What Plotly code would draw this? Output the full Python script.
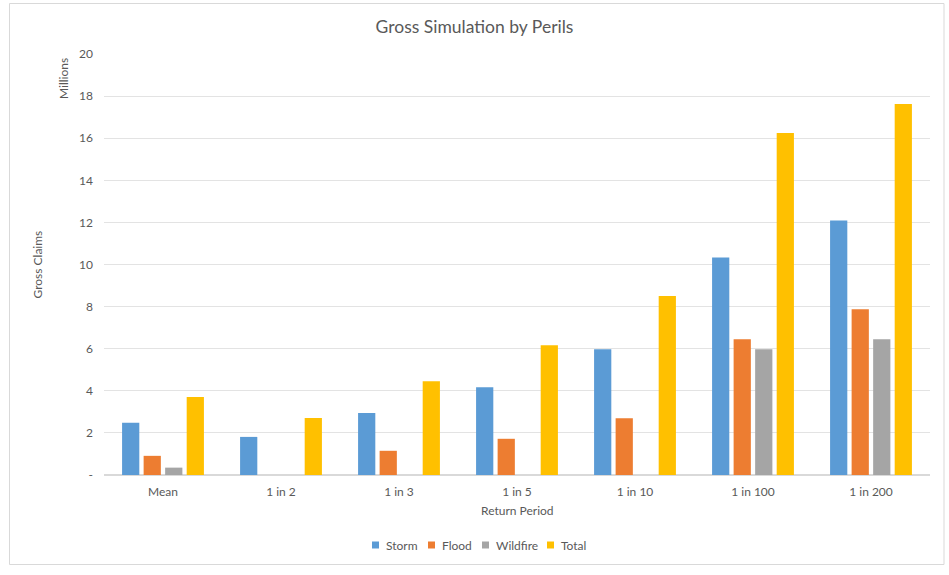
import plotly.graph_objects as go

categories = ["Mean", "1 in 2", "1 in 3", "1 in 5", "1 in 10", "1 in 100", "1 in 200"]
storm = [2.48, 1.81, 2.95, 4.17, 5.97, 10.33, 12.09]
flood = [0.91, 0, 1.15, 1.72, 2.70, 6.45, 7.88]
wildfire = [0.35, 0, 0, 0, 0, 5.97, 6.45]
total = [3.70, 2.71, 4.45, 6.16, 8.50, 16.25, 17.63]
series_names = ["Storm", "Flood", "Wildfire", "Total"]
series_colors = ["#5B9BD5", "#ED7D31", "#A5A5A5", "#FFC000"]
y_tickvals = [0, 2, 4, 6, 8, 10, 12, 14, 16, 18, 20]
y_ticktext = ["-", "2", "4", "6", "8", "10", "12", "14", "16", "18", "20"]

W, H = 949, 575
ML, MR, MT, MB = 104, 19, 54, 100
PW, PH = W - ML - MR, H - MT - MB

def px_x(p):
    return (p - ML) / PW

def px_y(p):
    return (H - MB - p) / PH

FONT = "Lato, 'Open Sans', sans-serif"
TXT = "#595959"

fig = go.Figure()
for name, vals, col in zip(series_names, [storm, flood, wildfire, total], series_colors):
    fig.add_trace(go.Bar(
        x=categories, y=vals, name=name, showlegend=False,
        marker=dict(color=col, line=dict(width=0)),
    ))

# custom legend (square markers + labels), positioned like the reference
legend_sq_x = [372, 428, 482, 547]
legend_y = 545
shapes = [
    dict(type="rect", xref="paper", yref="paper",
         x0=px_x(9.5), x1=px_x(944), y0=px_y(564.5), y1=px_y(3.5),
         line=dict(color="#D9D9D9", width=1), fillcolor="rgba(0,0,0,0)", layer="below"),
]
annotations = [
    dict(text="Gross Claims", xref="paper", yref="paper", x=px_x(37), y=0.5,
         textangle=-90, showarrow=False, xanchor="center", yanchor="middle",
         font=dict(size=12, color=TXT)),
    dict(text="Millions", xref="paper", yref="paper", x=px_x(64), y=px_y(79),
         textangle=-90, showarrow=False, xanchor="center", yanchor="middle",
         font=dict(size=12, color=TXT)),
    dict(text="Return Period", xref="paper", yref="paper", x=0.5, y=px_y(510),
         showarrow=False, xanchor="center", yanchor="middle",
         font=dict(size=12, color=TXT)),
]
for name, col, sx in zip(series_names, series_colors, legend_sq_x):
    shapes.append(dict(type="rect", xref="paper", yref="paper",
                       x0=px_x(sx), x1=px_x(sx + 7), y0=px_y(legend_y + 3.5), y1=px_y(legend_y - 3.5),
                       line=dict(width=0), fillcolor=col))
    annotations.append(dict(text=name, xref="paper", yref="paper", x=px_x(sx + 12), y=px_y(legend_y),
                            showarrow=False, xanchor="left", yanchor="middle",
                            font=dict(size=12, color=TXT)))

fig.update_layout(
    width=W, height=H,
    margin=dict(l=ML, r=MR, t=MT, b=MB),
    paper_bgcolor="white", plot_bgcolor="white",
    barmode="group", bargap=0.27, bargroupgap=0.2,
    font=dict(family=FONT, color=TXT, size=12),
    title=dict(text="Gross Simulation by Perils", x=0.5, xanchor="center",
               y=1 - 27 / H, yanchor="middle", font=dict(size=17.5, color=TXT)),
    showlegend=False,
    xaxis=dict(showgrid=False, showline=True, linecolor="#D9D9D9", linewidth=1,
               ticks="", tickfont=dict(size=12, color=TXT), fixedrange=True,
               ticklabelstandoff=6),
    yaxis=dict(range=[0, 20], tickvals=y_tickvals, ticktext=y_ticktext,
               showgrid=True, gridcolor="#E3E3E3", gridwidth=1, zeroline=True,
               zerolinecolor="#D9D9D9", showline=False, ticks="",
               tickfont=dict(size=12, color=TXT), ticklabelstandoff=10),
    annotations=annotations,
    shapes=shapes,
)

fig.write_html("out.html", config={"displayModeBar": False},
               post_script="document.body.style.margin='0';")
